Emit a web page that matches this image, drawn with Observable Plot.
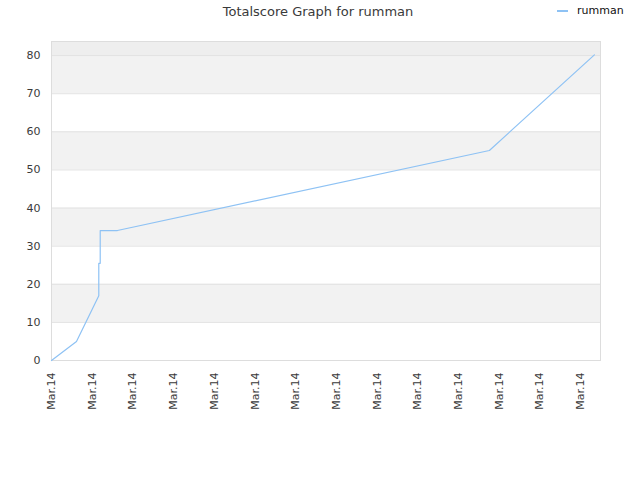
<!DOCTYPE html>
<html><head><meta charset="utf-8">
<script src="https://cdn.jsdelivr.net/npm/d3@7"></script>
<script src="https://cdn.jsdelivr.net/npm/@observablehq/plot@0.6"></script>
<style>
body{margin:0;background:#fff;font-family:"DejaVu Sans",sans-serif}
#wrap{position:relative;width:640px;height:480px}
#title{position:absolute;top:4px;left:0;width:636px;text-align:center;font-size:13px;color:#3a3a3a}
#legend{position:absolute;top:4px;left:557px;font-size:11px;color:#111;display:flex;align-items:center}
#legend span.sw{display:inline-block;width:11px;height:2px;background:#8ec2f4;margin-right:9px}
#chart{position:absolute;top:0;left:0}
</style></head>
<body>
<div id="wrap">
<div id="chart"></div>
<div id="title">Totalscore Graph for rumman</div>
<div id="legend"><span class="sw"></span><span>rumman</span></div>
</div>
<script>
// time position (in tick units along the axis) and total score
const timePos = [0, 0.614, 1.162, 1.162, 1.197, 1.197, 1.62, 10.76, 13.34];
const scores  = [0, 5.0, 17.0, 25.5, 25.5, 34.1, 34.1, 55.1, 80.2];
const xTickPos = [0,1,2,3,4,5,6,7,8,9,10,11,12,13];
const xTickLabels = ["Mar.14","Mar.14","Mar.14","Mar.14","Mar.14","Mar.14","Mar.14","Mar.14","Mar.14","Mar.14","Mar.14","Mar.14","Mar.14","Mar.14"];
const yTicks = [0,10,20,30,40,50,60,70,80];
const bandLow  = [10,30,50,70];
const bandHigh = [20,40,60,80];
const yMax = 83.7;
const xMax = 13.49;

const pts = timePos.map((t,i)=>({t, s:scores[i]}));
const bands = bandLow.map((lo,i)=>({lo, hi:bandHigh[i]}));

const chart = Plot.plot({
  width:640, height:480,
  marginLeft:51, marginRight:40, marginTop:41, marginBottom:120,
  style:{fontFamily:"DejaVu Sans, sans-serif", fontSize:"11px", background:"transparent"},
  x:{domain:[0,xMax]},
  y:{domain:[0,yMax]},
  marks:[
    Plot.rect(bands, {y1:"lo", y2:"hi", fill:"#f2f2f2"}),
    Plot.rect([{lo:80, hi:yMax}], {y1:"lo", y2:"hi", fill:"#eeeeee"}),
    Plot.ruleY(yTicks, {stroke:"#e2e2e2"}),
    Plot.frame({stroke:"#dddddd"}),
    Plot.line(pts, {x:"t", y:"s", stroke:"#8ec2f4", strokeWidth:1.2}),
    Plot.axisY(yTicks, {tickSize:0, tickPadding:11, fill:"#3a3a3a", label:null}),
    Plot.axisX(xTickPos, {tickSize:0, tickPadding:12, tickRotate:-90, fill:"#3a3a3a", label:null, tickFormat:d=>xTickLabels[d]})
  ]
});
document.getElementById("chart").appendChild(chart);
</script>
</body></html>
